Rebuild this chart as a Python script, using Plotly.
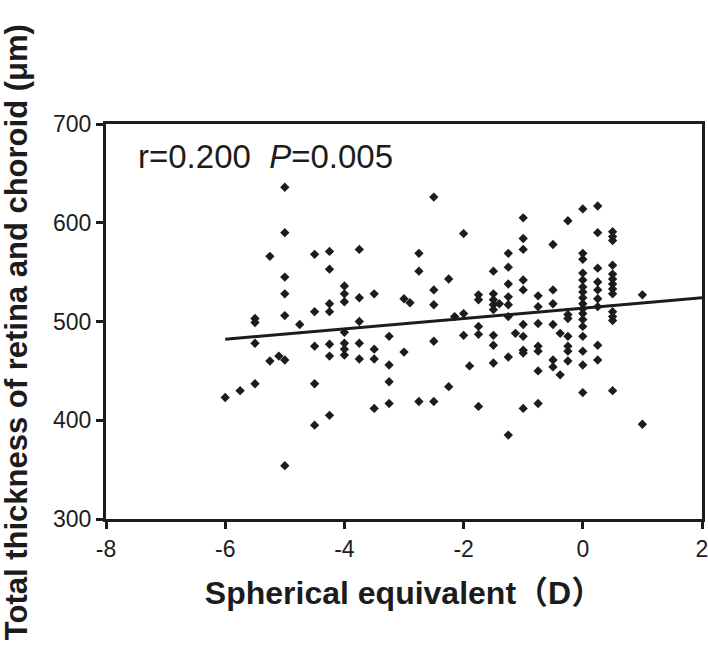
import plotly.graph_objects as go

# Spherical equivalent (D) for each eye
se_values = (
    [-6.0] + [-5.75] + [-5.5] * 4 + [-5.25] * 2 + [-5.1] + [-5.0] * 7 + [-4.75]
    + [-4.5] * 5 + [-4.25] * 7 + [-4.0] * 7 + [-3.75] * 5 + [-3.5] * 4 + [-3.25] * 4
    + [-3.0] * 2 + [-2.9] + [-2.75] * 3 + [-2.5] * 5 + [-2.25] * 2 + [-2.15] + [-2.0] * 3
    + [-1.9] + [-1.75] * 5 + [-1.5] * 8 + [-1.4] + [-1.25] * 8 + [-1.13] + [-1.0] * 10
    + [-0.75] * 7 + [-0.5] * 6 + [-0.38] * 2 + [-0.25] * 7 + [0.0] * 17 + [0.25] * 9
    + [0.5] * 13 + [1.0] * 2
)

# Total thickness of retina and choroid (um), same order as se_values
thickness = [
    423,
    430,
    503, 499, 478, 437,
    566, 460,
    465,
    636, 590, 545, 528, 506, 461, 354,
    497,
    568, 510, 475, 437, 395,
    571, 553, 518, 510, 477, 465, 405,
    536, 528, 520, 489, 478, 472, 466,
    573, 524, 500, 478, 462,
    528, 472, 462, 412,
    485, 456, 439, 417,
    523, 469,
    519,
    569, 551, 419,
    626, 532, 517, 480, 419,
    543, 434,
    505,
    589, 508, 486,
    455,
    527, 522, 495, 487, 414,
    551, 528, 522, 517, 512, 486, 476, 458,
    518,
    569, 555, 538, 525, 517, 505, 464, 385,
    488,
    605, 584, 573, 542, 532, 497, 485, 471, 468, 412,
    526, 515, 498, 475, 470, 450, 417,
    578, 532, 518, 497, 461, 454,
    488, 446,
    602, 507, 503, 485, 475, 470, 460,
    614, 569, 563, 549, 542, 535, 530, 524, 518, 513, 508, 502, 495, 485, 470, 456, 428,
    617, 590, 554, 540, 532, 523, 515, 476, 461,
    591, 586, 582, 557, 548, 543, 538, 533, 528, 510, 505, 501, 430,
    527, 396,
]

# Regression line end points
fit_x = [-6, 2]
fit_y = [482, 524]

x_ticks = [-8, -6, -4, -2, 0, 2]
y_ticks = [300, 400, 500, 600, 700]

ink = "#1c1c1c"
font_family = "Liberation Sans, Arial, sans-serif"

fig = go.Figure()
fig.add_trace(go.Scatter(
    x=se_values, y=thickness, mode="markers",
    marker=dict(symbol="diamond", size=7.2, color=ink, line=dict(width=0)),
    showlegend=False,
))
fig.add_trace(go.Scatter(
    x=fit_x, y=fit_y, mode="lines",
    line=dict(color=ink, width=3),
    showlegend=False,
))

axis_common = dict(
    showgrid=False, zeroline=False, showline=True, linecolor=ink, linewidth=3,
    mirror=True, ticks="outside", ticklen=7, tickwidth=3, tickcolor=ink,
    tickfont=dict(family=font_family, size=23, color=ink),
    automargin=False, ticklabeloverflow="allow",
)

fig.update_xaxes(
    range=[-8, 2], tickvals=x_ticks, ticktext=[str(v) for v in x_ticks],
    title=dict(text="<b>Spherical equivalent（D）</b>",
               font=dict(family="Liberation Sans, Noto Sans CJK SC, sans-serif", size=32, color=ink),
               standoff=22),
    **axis_common,
)
fig.update_yaxes(
    range=[300, 700], tickvals=y_ticks, ticktext=[str(v) for v in y_ticks],
    **axis_common,
)

# y-axis title (placed as rotated text so it can sit at the far left edge)
fig.add_annotation(
    xref="paper", yref="paper", x=-0.151, y=0.473, xanchor="center", yanchor="middle",
    text="<b>Total thickness of retina and choroid (μm)</b>", textangle=-90,
    showarrow=False, font=dict(family=font_family, size=31, color=ink),
)

fig.add_annotation(
    xref="paper", yref="paper", x=0.050, y=0.9165, xanchor="left", yanchor="middle",
    text="r=0.200\u00a0\u00a0<i>P</i>=0.005", showarrow=False,
    font=dict(family=font_family, size=33, color=ink),
)

fig.update_layout(
    width=708, height=650,
    margin=dict(l=106, r=6, t=124, b=131),
    paper_bgcolor="white", plot_bgcolor="white",
)

fig.write_html(
    "out.html",
    config={"displayModeBar": False},
    post_script="document.body.style.margin='0px';",
)
